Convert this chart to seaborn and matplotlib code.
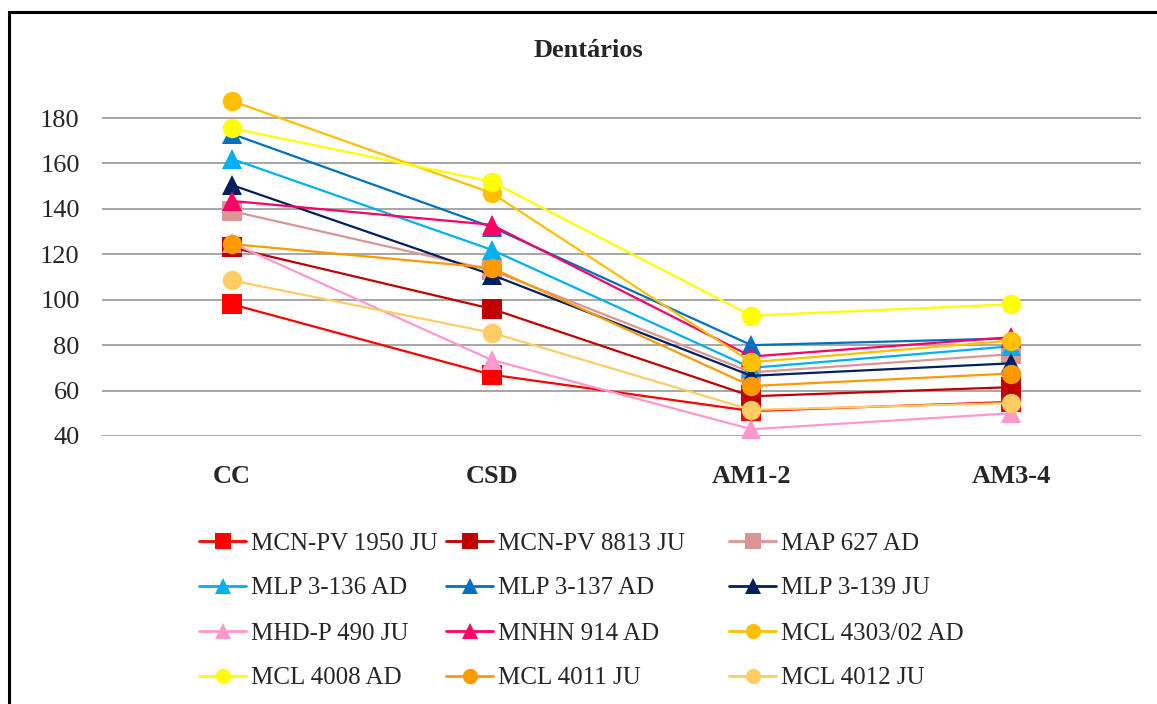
import numpy as np
import pandas as pd
import seaborn as sns
import matplotlib
matplotlib.use("Agg")
import matplotlib.pyplot as plt
from matplotlib.patches import Rectangle

categories = ["CC", "CSD", "AM1-2", "AM3-4"]

mcn_pv_1950_ju = [98, 67, 51, 55]
mcn_pv_8813_ju = [123, 96, 57.5, 61.5]
map_627_ad = [139, 113, 68, 76]
mlp_3_136_ad = [162, 122, 70, 79.5]
mlp_3_137_ad = [173, 132, 80, 83]
mlp_3_139_ju = [150.5, 111, 66.5, 72]
mhd_p_490_ju = [125, 73.5, 43, 50]
mnhn_914_ad = [143.5, 133, 75, 83.5]
mcl_4303_02_ad = [187.5, 147, 72.5, 82]
mcl_4008_ad = [175.5, 152, 93, 98]
mcl_4011_ju = [124.5, 114, 62, 67.5]
mcl_4012_ju = [108.5, 85.5, 51.5, 54.5]

series_names = ["MCN-PV 1950 JU", "MCN-PV 8813 JU", "MAP 627 AD",
                "MLP 3-136 AD", "MLP 3-137 AD", "MLP 3-139 JU",
                "MHD-P 490 JU", "MNHN 914 AD", "MCL 4303/02 AD",
                "MCL 4008 AD", "MCL 4011 JU", "MCL 4012 JU"]
series_values = [mcn_pv_1950_ju, mcn_pv_8813_ju, map_627_ad,
                 mlp_3_136_ad, mlp_3_137_ad, mlp_3_139_ju,
                 mhd_p_490_ju, mnhn_914_ad, mcl_4303_02_ad,
                 mcl_4008_ad, mcl_4011_ju, mcl_4012_ju]

colors = ["#FF0000", "#C00000", "#D99694",
          "#00B0F0", "#0070C0", "#002060",
          "#FF99CC", "#FF0066", "#FFC000",
          "#FFFF00", "#FF9900", "#FFCC66"]
markers = ["s", "s", "s", "^", "^", "^", "^", "^", "o", "o", "o", "o"]

rows = []
for name, vals in zip(series_names, series_values):
    for i, (c, v) in enumerate(zip(categories, vals)):
        rows.append({"serie": name, "pos": i, "cat": c, "valor": v})
df = pd.DataFrame(rows)

sns.set_style("white")
plt.rcParams["font.family"] = ["Liberation Serif", "DejaVu Serif"]

fig = plt.figure(figsize=(11.57, 7.04), dpi=100)
W, H = 1157, 704
ax = fig.add_axes([102 / W, (H - 436) / H, (1141 - 102) / W, (436 - 72.6) / H])

sns.lineplot(data=df, x="pos", y="valor", hue="serie", style="serie",
             hue_order=series_names, style_order=series_names,
             palette=dict(zip(series_names, colors)),
             markers=dict(zip(series_names, markers)),
             dashes=False, linewidth=1.6, markersize=14,
             markeredgewidth=0, ax=ax, legend=True)
for ln in ax.lines:
    ln.set_clip_on(False)

ax.set_xlim(-0.5, 3.5)
ax.set_ylim(40, 200)
ax.set_yticks(np.arange(40, 181, 20))
ax.set_xticks(range(len(categories)))
ax.set_xticklabels(categories, fontsize=19, fontweight="bold")
ax.tick_params(axis="y", labelsize=19, pad=16, length=0)
ax.tick_params(axis="x", pad=21, length=0)
ax.set_xlabel("")
ax.set_ylabel("")
ax.grid(axis="y", color="#A6A6A6", linewidth=1.4)
ax.grid(axis="x", visible=False)
for s in ax.spines.values():
    s.set_visible(False)
ax.set_axisbelow(True)

fig.text(588 / W, 1 - 57 / H, "Dentários", ha="center", va="baseline",
         fontsize=19, fontweight="bold")

handles, labels = ax.get_legend_handles_labels()
ax.get_legend().remove()
hmap = dict(zip(labels, handles))
for h in hmap.values():
    h.set_markersize(11)
    h.set_linewidth(2.0)

col_x = [199, 446, 729]
for c in range(3):
    idx = [c, c + 3, c + 6, c + 9]
    fig.legend([hmap[series_names[i]] for i in idx],
               [series_names[i] for i in idx], ncol=1, loc="upper left",
               bbox_to_anchor=(col_x[c] / W, 1 - 532 / H), frameon=False,
               fontsize=18, handlelength=1.88, handletextpad=0.2,
               labelspacing=0.9, borderpad=0, borderaxespad=0)

fig.add_artist(Rectangle((9 / W, -0.2), 2.0, 1.2 - 12 / H,
                         transform=fig.transFigure, fill=False,
                         edgecolor="black", linewidth=2.2))

fig.savefig("out.png", dpi=100)
